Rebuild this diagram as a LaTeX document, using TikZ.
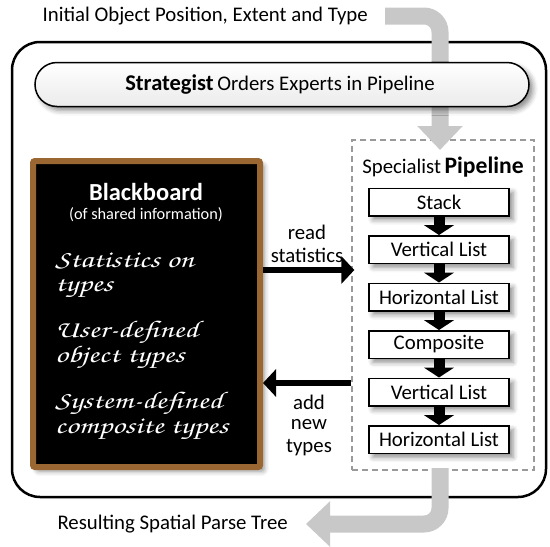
\documentclass[tikz,border=0pt]{standalone}
\usepackage[T1,TU]{fontenc}
\usepackage{fontspec}
\setmainfont{Carlito}
\usetikzlibrary{arrows.meta,shadows.blur}
\newcommand\chalkfont{\fontencoding{T1}\fontfamily{pzc}\fontseries{mb}\fontshape{it}\selectfont}
\newcommand\chalkline[1]{\scalebox{1.32}[1]{#1}}
\definecolor{flowgray}{HTML}{C8C8C8}
\definecolor{boardframe}{HTML}{9A6632}
\definecolor{dashgray}{HTML}{9A9A9A}
\tikzset{
  label/.style={font=\fontsize{20.8}{24}\selectfont, inner sep=0pt},
  softshadow/.style={blur shadow={shadow xshift=4pt, shadow yshift=-4pt, shadow blur radius=5pt, shadow opacity=45}},
  stagebox/.style={draw=black, line width=1.5pt, fill=white, minimum width=140pt, minimum height=27.5pt,
    inner sep=0pt, font=\fontsize{20.8}{24}\selectfont, softshadow},
  stagearrow/.style={line width=11pt, -{Triangle[width=30pt,length=10pt]}},
  flow/.style={draw=flowgray, line width=17pt, rounded corners=16pt, -{Triangle[width=44pt,length=24pt]}},
  bigarrow/.style={line width=6pt, -{Triangle[width=27pt,length=13pt]}},
  chalk/.style={text=white, anchor=base west, inner sep=0pt,
    font=\chalkfont\fontsize{24}{26}\selectfont},
}
\begin{document}
\begin{tikzpicture}[x=1pt,y=-1pt]
\useasboundingbox (0,0) rectangle (550,547);

% outer frame of the system
\draw[line width=2.5pt, rounded corners=28pt] (12,42) rectangle (546,497);

% dashed frame of the pipeline
\node[draw=dashgray, dashed, dash pattern=on 6pt off 4pt, line width=1.3pt,
  minimum width=182pt, minimum height=330pt, inner sep=0pt] (pipe) at (443,305) {};

% incoming and outgoing flow
\node[label, anchor=east] (inlbl) at (368,16) {Initial Object Position, Extent and Type};
\coordinate (inA) at (385,16);
\coordinate (inB) at (440,16);
\coordinate (inC) at (440,150);
\draw[flow] (inA) -- (inB) -- (inC);

\node[label, anchor=east] (outlbl) at (288,524) {Resulting Spatial Parse Tree};
\coordinate (outA) at (440,468);
\coordinate (outB) at (440,524);
\coordinate (outC) at (306,524);
\draw[flow] (outA) -- (outB) -- (outC);

% strategist
\node[draw=black, line width=1.5pt, rounded corners=22pt, minimum width=494pt, minimum height=44pt,
  top color=white, bottom color=black!8, softshadow] (strat) at (282,84.5) {};
\node[inner sep=0pt] (stratlbl) at ([xshift=-2pt]strat.center)
  {\fontsize{22.5}{24}\selectfont\bfseries Strategist\,\fontsize{20.8}{24}\mdseries\selectfont Orders Experts in Pipeline};

% blackboard
\node[draw=boardframe, line width=6pt, fill=black, rounded corners=2pt, minimum width=227pt, minimum height=306pt,
  inner sep=0pt, softshadow] (bb) at (146.5,314) {};
\node[text=white, inner sep=0pt, font=\fontsize{24.5}{26}\selectfont\bfseries] (bbtitle) at (146,192) {Blackboard};
\node[text=white, inner sep=0pt, font=\fontsize{16.3}{18}\selectfont] (bbsub) at (146,215) {(of shared information)};
\node[chalk] (c1a) at (55,267)   {\chalkline{Statistics on}};
\node[chalk] (c1b) at (55,291.5) {\chalkline{types}};
\node[chalk] (c2a) at (55,337.5) {\chalkline{User-defined}};
\node[chalk] (c2b) at (55,362)   {\chalkline{object types}};
\node[chalk] (c3a) at (55,408.5) {\chalkline{System-defined}};
\node[chalk] (c3b) at (55,433)   {\chalkline{composite types}};

% pipeline of specialists
\node[inner sep=0pt] (pipettl) at (443,167)
  {\fontsize{20.8}{24}\selectfont Specialist\,\fontsize{23.6}{24}\bfseries\selectfont Pipeline};
\node[stagebox] (s1) at (439,202) {Stack};
\node[stagebox] (s2) at (439,249.5) {Vertical List};
\node[stagebox] (s3) at (439,297) {Horizontal List};
\node[stagebox] (s4) at (439,344.5) {Composite};
\node[stagebox] (s5) at (439,392) {Vertical List};
\node[stagebox] (s6) at (439,439.5) {Horizontal List};
\foreach \a/\b in {s1/s2, s2/s3, s3/s4, s4/s5, s5/s6}
  \draw[stagearrow] (\a.south) -- (\b.north);

% exchange with the blackboard
\coordinate (readY) at (0,270);
\coordinate (addY) at (0,383);
\draw[bigarrow] (bb.east |- readY) -- ([xshift=3pt]pipe.west |- readY);
\draw[bigarrow] (pipe.west |- addY) -- (bb.east |- addY);
\node[label] (rd1) at (307,232) {read};
\node[label] (rd2) at (307,255) {statistics};
\node[label] (ad1) at (309,402) {add};
\node[label] (ad2) at (309,425) {new};
\node[label] (ad3) at (309,448) {types};
\end{tikzpicture}
\end{document}
